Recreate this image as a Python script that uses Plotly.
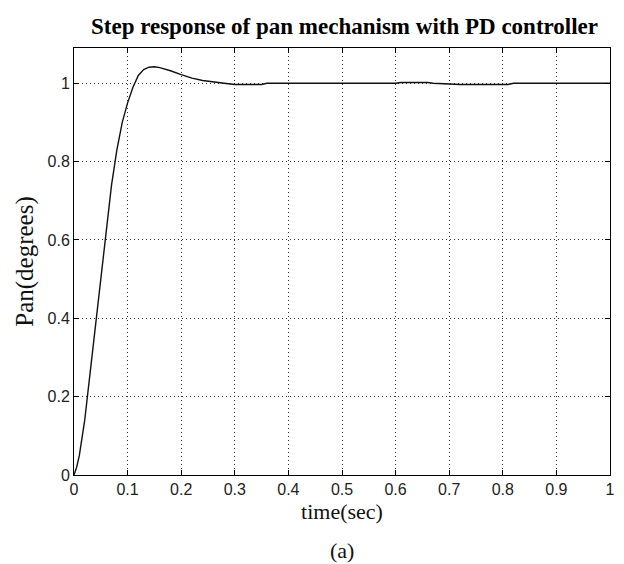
import plotly.graph_objects as go

# Step response samples (time in seconds, pan angle in degrees)
time_s = [0.0, 0.005, 0.01, 0.02, 0.03, 0.04, 0.05, 0.06, 0.07, 0.08, 0.09,
          0.10, 0.11, 0.12, 0.13, 0.14, 0.15, 0.16, 0.18, 0.20, 0.22, 0.24,
          0.26, 0.28, 0.30, 0.35, 0.36, 0.60, 0.61, 0.66, 0.67, 0.72, 0.81,
          0.82, 1.0]
pan_deg = [0.0, 0.02, 0.05, 0.14, 0.26, 0.38, 0.51, 0.63, 0.74, 0.83, 0.90,
           0.95, 0.99, 1.02, 1.035, 1.041, 1.042, 1.040, 1.032, 1.022, 1.013,
           1.007, 1.003, 1.0, 0.997, 0.997, 1.0, 1.0, 1.002, 1.002, 1.0,
           0.997, 0.997, 1.0, 1.0]

x_ticks = [0, 0.1, 0.2, 0.3, 0.4, 0.5, 0.6, 0.7, 0.8, 0.9, 1]
y_ticks = [0, 0.2, 0.4, 0.6, 0.8, 1]

W, H = 624, 564
L, R, T, B = 74, 9, 48, 89

fig = go.Figure()
fig.add_trace(go.Scatter(
    x=time_s, y=pan_deg, mode="lines",
    line=dict(color="#111111", width=1.4),
    showlegend=False, hoverinfo="skip",
))

axis_common = dict(
    showline=True, linecolor="black", linewidth=1, mirror="ticks",
    ticks="inside", ticklen=5, tickwidth=1, tickcolor="black",
    showgrid=True, gridcolor="#333333", gridwidth=1, griddash="1px,3px",
    zeroline=False,
    tickfont=dict(family="Liberation Sans, Arial, sans-serif", size=16, color="#222222"),
)

fig.update_xaxes(
    range=[0, 1], tickvals=x_ticks, ticktext=[f"{v:g}" for v in x_ticks],
    title=dict(text="time(sec)", standoff=6,
               font=dict(family="Liberation Serif, Times New Roman, serif", size=22, color="#111111")),
    **axis_common,
)
fig.update_yaxes(
    range=[0, 1.09], tickvals=y_ticks, ticktext=[f"{v:g}" for v in y_ticks],
    title=dict(text="Pan(degrees)", standoff=6,
               font=dict(family="Liberation Serif, Times New Roman, serif", size=25, color="#111111")),
    **axis_common,
)

fig.update_layout(
    width=W, height=H,
    margin=dict(l=L, r=R, t=T, b=B),
    paper_bgcolor="white", plot_bgcolor="white",
    title=dict(
        text="<b>Step response of pan mechanism with PD controller</b>",
        x=(L + (W - R)) / 2 / W, xanchor="center",
        y=1 - 26 / H, yanchor="middle", yref="container",
        font=dict(family="Liberation Serif, Times New Roman, serif", size=23, color="black"),
    ),
    annotations=[dict(
        text="(a)", xref="paper", yref="paper",
        x=0.5, y=-(550 - (H - B)) / (H - T - B), xanchor="center", yanchor="middle",
        showarrow=False,
        font=dict(family="Liberation Serif, Times New Roman, serif", size=22, color="#111111"),
    )],
)

fig.write_html("out.html")
